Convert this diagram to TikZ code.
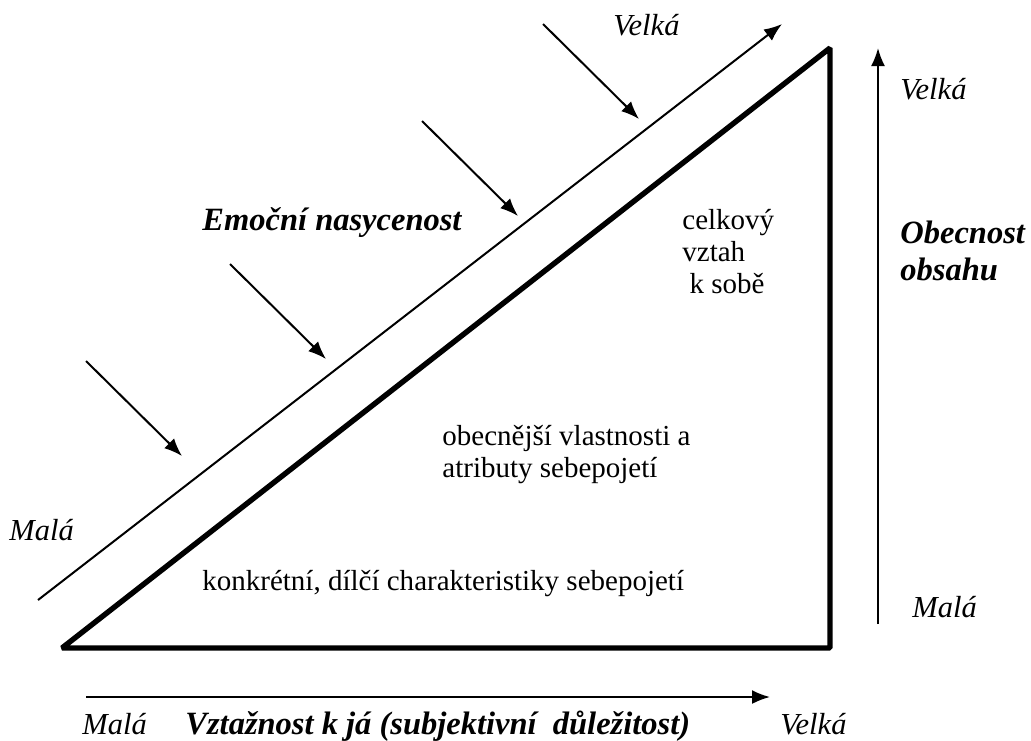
\documentclass[tikz,border=0pt]{standalone}
\usepackage{fontspec}
\setmainfont{Liberation Serif}
\usetikzlibrary{arrows.meta}

\begin{document}
\begin{tikzpicture}[
    x=0.5pt, y=-0.5pt,
    txt/.style={anchor=base west, inner sep=0pt, align=left,
      font=\fontsize{14.5}{16}\selectfont},
    axis/.style={anchor=base west, inner sep=0pt,
      font=\fontsize{15.25}{17}\selectfont\itshape},
    title/.style={anchor=base west, inner sep=0pt, align=left,
      font=\fontsize{16.25}{18.5}\selectfont\bfseries\itshape},
    edge/.style={line width=2.7pt, line join=bevel},
    arr/.style={line width=1pt, ->},
    >={Latex[length=9pt, width=7pt]}
    ]
    \useasboundingbox (0,0) rectangle (1031,740);

    % Triangle
    \coordinate (bl) at (62,648);
    \coordinate (br) at (830,648);
    \coordinate (tp) at (830,48);
    \draw[edge] (bl) -- (br) -- (tp) -- cycle;

    % Axes
    \coordinate (diag0) at (38,600);
    \coordinate (diag1) at (782,24);
    \draw[arr] (diag0) -- (diag1);

    \coordinate (vert0) at (878,624);
    \coordinate (vert1) at (878,48);
    \draw[arr] (vert0) -- (vert1);

    \coordinate (hor0) at (86,697);
    \coordinate (hor1) at (770,697);
    \draw[arr] (hor0) -- (hor1);

    % Emotion arrows
    \foreach \ai/\xa/\ya in {1/86/361, 2/230/264, 3/422/121, 4/543/24}
        {\coordinate (s\ai) at (\xa,\ya);
         \coordinate (e\ai) at (\xa+96,\ya+95);
         \draw[arr] (s\ai) -- (e\ai);
        }

    % Labels
    \node[axis] (velka1) at (613,35) {Velká};
    \node[axis] (mala1) at (9,540) {Malá};
    \node[title] (emoce) at (202,230) {Emoční nasycenost};

    \node[axis] (velka2) at (900,99) {Velká};
    \node[title] (obecnost) at (900,280) {Obecnost\\obsahu};
    \node[axis] (mala2) at (912,617) {Malá};

    \node[axis] (mala3) at (82,734) {Malá};
    \node[title] (vztaznost) at (185,734) {Vztažnost k já (subjektivní\ \ důležitost)};
    \node[axis] (velka3) at (780,734) {Velká};

    % Levels (base = last line)
    \node[txt] (celek) at (682,293) {celkový\\vztah\\\ k sobě};
    \node[txt] (obecne) at (442,477) {obecnější vlastnosti a\\atributy sebepojetí};
    \node[txt] (dilci) at (202,590) {konkrétní, dílčí charakteristiky sebepojetí};
\end{tikzpicture}
\end{document}
